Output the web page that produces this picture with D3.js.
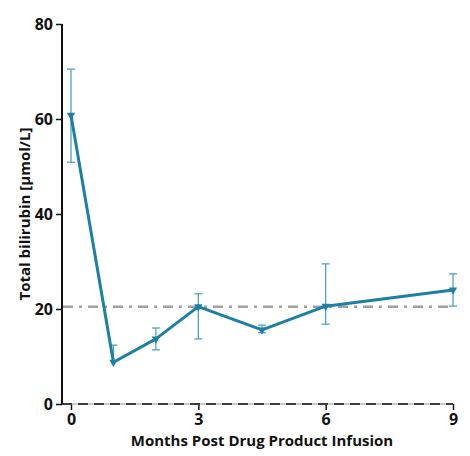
<!DOCTYPE html>
<html>
<head>
<meta charset="utf-8">
<script src="https://cdn.jsdelivr.net/npm/d3@7"></script>
<style>
  html, body { margin: 0; padding: 0; background: #fff; }
  text { font-family: "Open Sans", "Liberation Sans", sans-serif; font-weight: bold; fill: #111; }
</style>
</head>
<body>
<svg id="chart" width="470" height="456"></svg>
<script>
// Total bilirubin over time after infusion (mean with error range)
const months   = [0, 1, 2, 3, 4.5, 6, 9];
const bilirubin = [60.8, 8.8, 13.7, 20.5, 15.6, 20.6, 24.0];
const errHigh  = [70.5, 12.4, 16.0, 23.2, 16.6, 29.5, 27.4];
const errLow   = [50.9, 8.8, 11.4, 13.7, 15.0, 16.8, 20.6];
const upperLimit = 20.5;
const xTicks = [0, 3, 6, 9];
const yTicks = [0, 20, 40, 60, 80];

const svg = d3.select("#chart");
const x = d3.scaleLinear().domain([0, 9]).range([71, 453]);
const y = d3.scaleLinear().domain([0, 80]).range([404, 24]);
const axisX0 = 62;

const lineColor = "#1b7fa6";
const errColor = "#4fa3c6";

// Y axis
const yAxis = svg.append("g")
  .attr("transform", `translate(${axisX0},0)`)
  .call(d3.axisLeft(y).tickValues(yTicks).tickSize(6).tickPadding(3));
yAxis.select(".domain").attr("stroke", "#111").attr("stroke-width", 2)
  .attr("d", `M0,${y(80)}V${y(0)}`);
yAxis.selectAll(".tick line").attr("stroke", "#111").attr("stroke-width", 1.5);
yAxis.selectAll(".tick text").style("font-size", "16px");

// X axis (dashed baseline)
const xAxis = svg.append("g")
  .attr("transform", `translate(0,${y(0)})`)
  .call(d3.axisBottom(x).tickValues(xTicks).tickSize(6).tickPadding(4));
xAxis.select(".domain").remove();
xAxis.selectAll(".tick line").attr("stroke", "#111").attr("stroke-width", 1.5);
xAxis.selectAll(".tick text").style("font-size", "16px");
svg.append("line")
  .attr("x1", axisX0).attr("x2", x(9))
  .attr("y1", y(0)).attr("y2", y(0))
  .attr("stroke", "#bbb").attr("stroke-width", 1.5);
svg.append("line")
  .attr("x1", axisX0).attr("x2", x(9))
  .attr("y1", y(0)).attr("y2", y(0))
  .attr("stroke", "#111").attr("stroke-width", 1.5)
  .attr("stroke-dasharray", "10,6");

// Reference upper limit line
svg.append("line")
  .attr("x1", axisX0 + 1).attr("x2", x(9))
  .attr("y1", y(upperLimit)).attr("y2", y(upperLimit))
  .attr("stroke", "#a0a0a0").attr("stroke-width", 2.5)
  .attr("stroke-dasharray", "10,6,3,6");

// Error bars
const pts = months.map((m, i) => ({ m, v: bilirubin[i], hi: errHigh[i], lo: errLow[i] }));
const eb = svg.append("g").attr("stroke", errColor).attr("stroke-width", 1.3);
pts.forEach(d => {
  eb.append("line").attr("x1", x(d.m)).attr("x2", x(d.m)).attr("y1", y(d.hi)).attr("y2", y(d.lo));
  eb.append("line").attr("x1", x(d.m) - 4).attr("x2", x(d.m) + 4).attr("y1", y(d.hi)).attr("y2", y(d.hi));
  if (d.lo < d.v) {
    eb.append("line").attr("x1", x(d.m) - 4).attr("x2", x(d.m) + 4).attr("y1", y(d.lo)).attr("y2", y(d.lo));
  }
});

// Mean line
svg.append("path")
  .datum(pts)
  .attr("fill", "none")
  .attr("stroke", lineColor)
  .attr("stroke-width", 3)
  .attr("stroke-linejoin", "round")
  .attr("d", d3.line().x(d => x(d.m)).y(d => y(d.v)));

// Markers (downward triangles)
svg.append("g").selectAll("path")
  .data(pts).join("path")
  .attr("transform", d => `translate(${x(d.m)},${y(d.v)}) rotate(180)`)
  .attr("d", d3.symbol().type(d3.symbolTriangle).size(30))
  .attr("fill", lineColor);

// Axis titles
svg.append("text")
  .attr("x", 262).attr("y", 446)
  .attr("text-anchor", "middle")
  .style("font-size", "15px")
  .text("Months Post Drug Product Infusion");
svg.append("text")
  .attr("transform", `translate(30,${y(40)}) rotate(-90)`)
  .attr("text-anchor", "middle")
  .style("font-size", "15px")
  .text("Total bilirubin [μmol/L]");
</script>
</body>
</html>
